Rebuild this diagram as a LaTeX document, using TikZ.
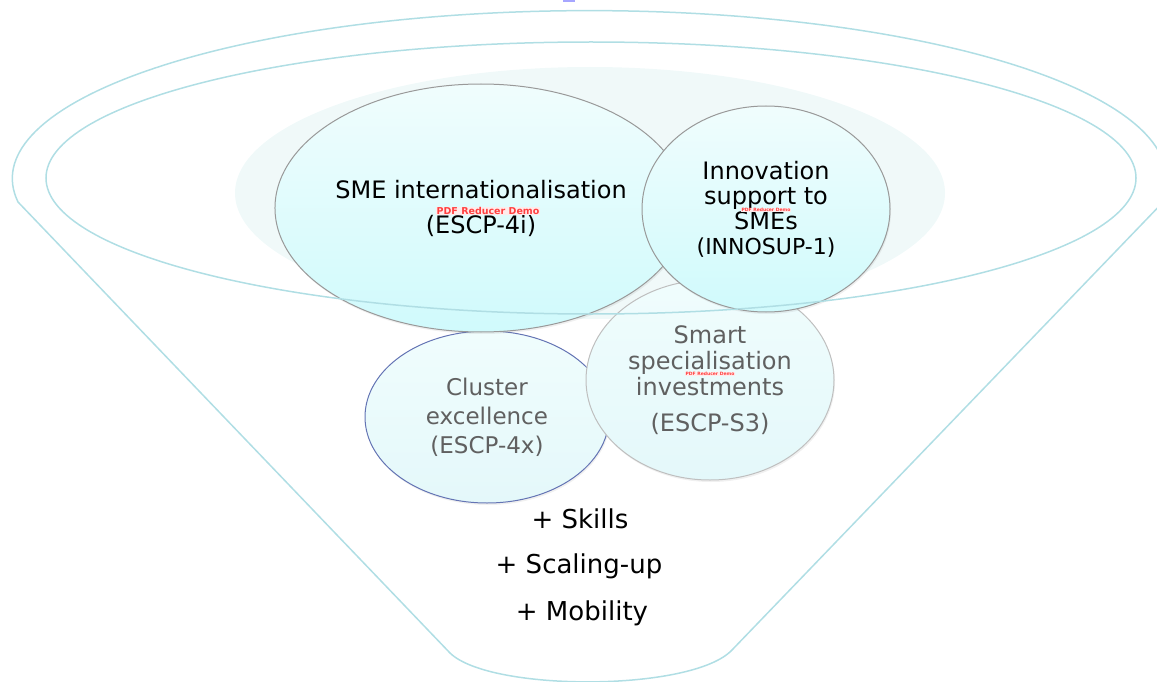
\documentclass[tikz,border=0pt]{standalone}
\usepackage{fontspec}
\setmainfont{DejaVu Sans}
\usepackage{tikz}
\usetikzlibrary{shapes.geometric, shadows}
\usepackage{xcolor}

\definecolor{funnelline}{RGB}{176,222,228}
\definecolor{glowfill}{RGB}{240,249,249}
\definecolor{bubbletop}{RGB}{240,253,253}
\definecolor{bubblebot}{RGB}{208,250,252}
\definecolor{palebot}{RGB}{228,248,250}
\definecolor{clusterdraw}{RGB}{100,116,180}
\definecolor{greytext}{RGB}{96,96,96}

\begin{document}
\begin{tikzpicture}[
    x=1pt, y=-1pt,
    % Node styles
    funnel/.style={draw=funnelline, line width=1.5pt},
    bubble/.style={ellipse, inner sep=0pt, align=center, top color=bubbletop, bottom color=bubblebot, draw=gray!80, line width=1pt, drop shadow={opacity=0.12, shadow xshift=1pt, shadow yshift=-2pt}},
    palebubble/.style={bubble, bottom color=palebot, text=greytext},
    extra/.style={anchor=base, font=\fontsize{26}{30}\selectfont},
    watermark/.style={text=red!75, fill=red!8, inner sep=0.3pt, font=\bfseries},
]

\useasboundingbox (0,0) rectangle (1157,682);
\clip (0,0) rectangle (1157,682);

% ============================================================================
% FUNNEL OUTLINE
% ============================================================================
\draw[funnel] (18,202) arc[start angle=172, end angle=370, x radius=577, y radius=168]
    -- (732,650) .. controls (692,692) and (490,692) .. (450,653) -- cycle;

% Soft glow behind the top bubbles
\fill[glowfill] (590,193) ellipse [x radius=355, y radius=126];

\fill[blue!35] (563,0) rectangle (575,2);

% ============================================================================
% BUBBLES
% ============================================================================
\node[palebubble, draw=clusterdraw, minimum width=244, minimum height=172,
      font=\fontsize{23}{29}\selectfont] (cluster) at (487,417) {
    Cluster\\
    excellence\\
    (ESCP-4x)
};

\node[palebubble, draw=gray!50, minimum width=248, minimum height=200,
      font=\fontsize{24}{26}\selectfont] (smart) at (710,380) {
    Smart\\
    specialisation\\
    investments\\[10pt]
    (ESCP-S3)
};

\node[bubble, minimum width=410, minimum height=248,
      font=\fontsize{24}{35}\selectfont] (sme) at (481,208) {
    SME internationalisation\\
    (ESCP-4i)
};

\node[bubble, minimum width=248, minimum height=206,
      font=\fontsize{24}{25}\selectfont] (innosup) at (766,209) {
    Innovation\\
    support to\\
    SMEs\\
    {\fontsize{22}{25}\selectfont (INNOSUP-1)}
};

% Watermarks
\node[watermark, font=\fontsize{9.5}{10}\selectfont\bfseries] (wm1) at (488,211) {PDF Reducer Demo};
\node[watermark, font=\fontsize{4.5}{5}\selectfont\bfseries] (wm2) at (766,210) {PDF Reducer Demo};
\node[watermark, font=\fontsize{4.5}{5}\selectfont\bfseries] (wm3) at (710,374) {PDF Reducer Demo};

% Inner rim of the funnel, on top
\draw[funnel] (591,178) ellipse [x radius=545, y radius=136];

% ============================================================================
% BOTTOM: EXTRAS
% ============================================================================
\node[extra] (skills) at (580,528) {+ Skills};
\node[extra] (scaling) at (579,573) {+ Scaling-up};
\node[extra] (mobility) at (582,620) {+ Mobility};

\end{tikzpicture}
\end{document}
